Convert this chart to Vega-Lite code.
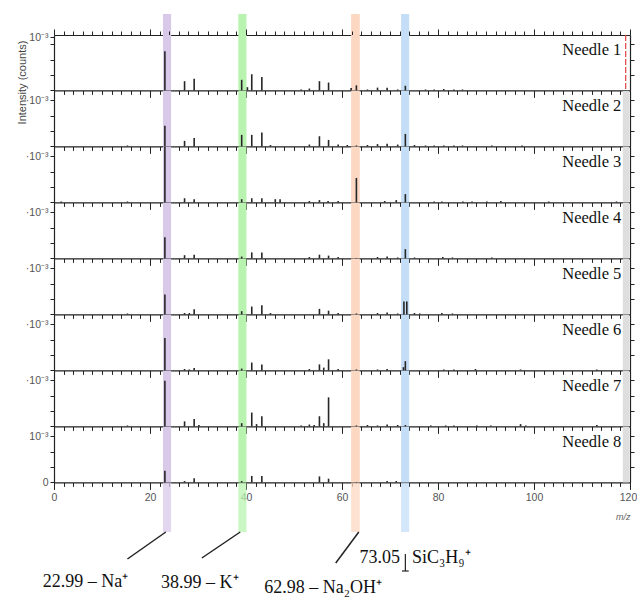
{
"$schema": "https://vega.github.io/schema/vega-lite/v6.json",
"background": "white",
"padding": {"left": 15, "top": 14, "right": 0, "bottom": 0},
"spacing": 0,
"bounds": "flush",
"config": {
  "view": {"stroke": null},
  "axis": {"domainColor": "#222", "domainWidth": 1.2, "tickColor": "#222", "tickWidth": 1, "grid": false, "labelFont": "Liberation Sans", "labelColor": "#555", "labelFontSize": 10.5, "titleFont": "Liberation Sans", "titleFontWeight": "normal", "titleColor": "#444"}
},
"datasets": {
  "bands": [
    {"ion": "Na⁺", "start": 22.7, "end": 24.4},
    {"ion": "K⁺", "start": 38.4, "end": 40.1},
    {"ion": "Na₂OH⁺", "start": 61.9, "end": 63.7},
    {"ion": "SiC₃H₉⁺", "start": 72.3, "end": 74.0},
    {"ion": "ref", "start": 118.5, "end": 119.8}
  ],
  "peaks": [
    {"needle": 1, "mz": 23.1, "intensity": 0.85},
    {"needle": 1, "mz": 27.2, "intensity": 0.2},
    {"needle": 1, "mz": 29.2, "intensity": 0.25},
    {"needle": 1, "mz": 39.1, "intensity": 0.23},
    {"needle": 1, "mz": 40.3, "intensity": 0.07},
    {"needle": 1, "mz": 41.2, "intensity": 0.35},
    {"needle": 1, "mz": 43.3, "intensity": 0.29},
    {"needle": 1, "mz": 51.5, "intensity": 0.02},
    {"needle": 1, "mz": 53.2, "intensity": 0.04},
    {"needle": 1, "mz": 55.3, "intensity": 0.2},
    {"needle": 1, "mz": 57.2, "intensity": 0.17},
    {"needle": 1, "mz": 61.9, "intensity": 0.05},
    {"needle": 1, "mz": 63.0, "intensity": 0.11},
    {"needle": 1, "mz": 65.3, "intensity": 0.02},
    {"needle": 1, "mz": 67.4, "intensity": 0.06},
    {"needle": 1, "mz": 69.4, "intensity": 0.06},
    {"needle": 1, "mz": 71.6, "intensity": 0.02},
    {"needle": 1, "mz": 73.2, "intensity": 0.1},
    {"needle": 1, "mz": 77.4, "intensity": 0.02},
    {"needle": 1, "mz": 79.2, "intensity": 0.02},
    {"needle": 1, "mz": 81.2, "intensity": 0.03},
    {"needle": 1, "mz": 83.3, "intensity": 0.02},
    {"needle": 1, "mz": 85.1, "intensity": 0.02},
    {"needle": 2, "mz": 15.3, "intensity": 0.02},
    {"needle": 2, "mz": 23.1, "intensity": 0.45},
    {"needle": 2, "mz": 27.2, "intensity": 0.12},
    {"needle": 2, "mz": 29.2, "intensity": 0.18},
    {"needle": 2, "mz": 39.1, "intensity": 0.25},
    {"needle": 2, "mz": 41.2, "intensity": 0.25},
    {"needle": 2, "mz": 43.3, "intensity": 0.3},
    {"needle": 2, "mz": 45.1, "intensity": 0.03},
    {"needle": 2, "mz": 53.2, "intensity": 0.04},
    {"needle": 2, "mz": 55.3, "intensity": 0.22},
    {"needle": 2, "mz": 57.2, "intensity": 0.14},
    {"needle": 2, "mz": 59.2, "intensity": 0.04},
    {"needle": 2, "mz": 61.1, "intensity": 0.03},
    {"needle": 2, "mz": 63.0, "intensity": 0.02},
    {"needle": 2, "mz": 65.3, "intensity": 0.03},
    {"needle": 2, "mz": 67.4, "intensity": 0.05},
    {"needle": 2, "mz": 69.4, "intensity": 0.06},
    {"needle": 2, "mz": 71.6, "intensity": 0.04},
    {"needle": 2, "mz": 73.2, "intensity": 0.27},
    {"needle": 2, "mz": 75.1, "intensity": 0.03},
    {"needle": 2, "mz": 77.4, "intensity": 0.02},
    {"needle": 2, "mz": 79.2, "intensity": 0.02},
    {"needle": 2, "mz": 81.2, "intensity": 0.02},
    {"needle": 2, "mz": 83.3, "intensity": 0.02},
    {"needle": 2, "mz": 85.1, "intensity": 0.02},
    {"needle": 2, "mz": 91.2, "intensity": 0.02},
    {"needle": 2, "mz": 97.5, "intensity": 0.02},
    {"needle": 3, "mz": 1.5, "intensity": 0.02},
    {"needle": 3, "mz": 15.3, "intensity": 0.02},
    {"needle": 3, "mz": 23.1, "intensity": 1.2},
    {"needle": 3, "mz": 27.2, "intensity": 0.09},
    {"needle": 3, "mz": 29.2, "intensity": 0.07},
    {"needle": 3, "mz": 39.1, "intensity": 0.07},
    {"needle": 3, "mz": 41.2, "intensity": 0.09},
    {"needle": 3, "mz": 43.3, "intensity": 0.09},
    {"needle": 3, "mz": 46.1, "intensity": 0.07},
    {"needle": 3, "mz": 47.1, "intensity": 0.07},
    {"needle": 3, "mz": 53.2, "intensity": 0.03},
    {"needle": 3, "mz": 55.3, "intensity": 0.05},
    {"needle": 3, "mz": 57.1, "intensity": 0.03},
    {"needle": 3, "mz": 59.2, "intensity": 0.03},
    {"needle": 3, "mz": 63.0, "intensity": 0.53},
    {"needle": 3, "mz": 68.9, "intensity": 0.03},
    {"needle": 3, "mz": 71.3, "intensity": 0.05},
    {"needle": 3, "mz": 73.2, "intensity": 0.18},
    {"needle": 3, "mz": 79.2, "intensity": 0.02},
    {"needle": 3, "mz": 80.8, "intensity": 0.02},
    {"needle": 3, "mz": 85.2, "intensity": 0.02},
    {"needle": 3, "mz": 87.1, "intensity": 0.02},
    {"needle": 3, "mz": 90.2, "intensity": 0.02},
    {"needle": 3, "mz": 93.1, "intensity": 0.03},
    {"needle": 3, "mz": 103.1, "intensity": 0.02},
    {"needle": 3, "mz": 117.2, "intensity": 0.02},
    {"needle": 4, "mz": 23.1, "intensity": 0.46},
    {"needle": 4, "mz": 27.2, "intensity": 0.07},
    {"needle": 4, "mz": 29.2, "intensity": 0.08},
    {"needle": 4, "mz": 39.1, "intensity": 0.04},
    {"needle": 4, "mz": 41.2, "intensity": 0.13},
    {"needle": 4, "mz": 43.3, "intensity": 0.13},
    {"needle": 4, "mz": 53.2, "intensity": 0.03},
    {"needle": 4, "mz": 55.3, "intensity": 0.08},
    {"needle": 4, "mz": 57.2, "intensity": 0.06},
    {"needle": 4, "mz": 59.2, "intensity": 0.03},
    {"needle": 4, "mz": 63.0, "intensity": 0.01},
    {"needle": 4, "mz": 67.4, "intensity": 0.03},
    {"needle": 4, "mz": 69.4, "intensity": 0.04},
    {"needle": 4, "mz": 71.6, "intensity": 0.02},
    {"needle": 4, "mz": 73.2, "intensity": 0.2},
    {"needle": 4, "mz": 75.1, "intensity": 0.02},
    {"needle": 4, "mz": 81.0, "intensity": 0.03},
    {"needle": 4, "mz": 83.0, "intensity": 0.02},
    {"needle": 4, "mz": 91.2, "intensity": 0.02},
    {"needle": 5, "mz": 15.3, "intensity": 0.02},
    {"needle": 5, "mz": 23.1, "intensity": 0.43},
    {"needle": 5, "mz": 27.2, "intensity": 0.03},
    {"needle": 5, "mz": 28.2, "intensity": 0.03},
    {"needle": 5, "mz": 29.2, "intensity": 0.11},
    {"needle": 5, "mz": 39.1, "intensity": 0.07},
    {"needle": 5, "mz": 41.2, "intensity": 0.17},
    {"needle": 5, "mz": 43.3, "intensity": 0.2},
    {"needle": 5, "mz": 45.1, "intensity": 0.03},
    {"needle": 5, "mz": 55.3, "intensity": 0.12},
    {"needle": 5, "mz": 57.2, "intensity": 0.08},
    {"needle": 5, "mz": 59.2, "intensity": 0.03},
    {"needle": 5, "mz": 63.0, "intensity": 0.02},
    {"needle": 5, "mz": 67.4, "intensity": 0.03},
    {"needle": 5, "mz": 69.4, "intensity": 0.04},
    {"needle": 5, "mz": 71.6, "intensity": 0.02},
    {"needle": 5, "mz": 72.9, "intensity": 0.28},
    {"needle": 5, "mz": 73.5, "intensity": 0.28},
    {"needle": 5, "mz": 75.1, "intensity": 0.03},
    {"needle": 5, "mz": 76.2, "intensity": 0.02},
    {"needle": 5, "mz": 80.8, "intensity": 0.03},
    {"needle": 5, "mz": 83.0, "intensity": 0.02},
    {"needle": 6, "mz": 23.1, "intensity": 0.7},
    {"needle": 6, "mz": 27.2, "intensity": 0.03},
    {"needle": 6, "mz": 28.2, "intensity": 0.02},
    {"needle": 6, "mz": 29.2, "intensity": 0.05},
    {"needle": 6, "mz": 39.1, "intensity": 0.04},
    {"needle": 6, "mz": 41.2, "intensity": 0.17},
    {"needle": 6, "mz": 43.3, "intensity": 0.13},
    {"needle": 6, "mz": 53.2, "intensity": 0.03},
    {"needle": 6, "mz": 55.3, "intensity": 0.13},
    {"needle": 6, "mz": 56.2, "intensity": 0.06},
    {"needle": 6, "mz": 57.2, "intensity": 0.24},
    {"needle": 6, "mz": 59.2, "intensity": 0.03},
    {"needle": 6, "mz": 63.0, "intensity": 0.02},
    {"needle": 6, "mz": 67.4, "intensity": 0.02},
    {"needle": 6, "mz": 69.4, "intensity": 0.03},
    {"needle": 6, "mz": 72.8, "intensity": 0.07},
    {"needle": 6, "mz": 73.2, "intensity": 0.2},
    {"needle": 6, "mz": 81.2, "intensity": 0.02},
    {"needle": 6, "mz": 83.3, "intensity": 0.02},
    {"needle": 6, "mz": 87.8, "intensity": 0.03},
    {"needle": 6, "mz": 97.2, "intensity": 0.02},
    {"needle": 6, "mz": 113.1, "intensity": 0.02},
    {"needle": 7, "mz": 15.3, "intensity": 0.02},
    {"needle": 7, "mz": 23.1, "intensity": 0.99},
    {"needle": 7, "mz": 27.2, "intensity": 0.11},
    {"needle": 7, "mz": 29.2, "intensity": 0.16},
    {"needle": 7, "mz": 30.2, "intensity": 0.03},
    {"needle": 7, "mz": 39.1, "intensity": 0.07},
    {"needle": 7, "mz": 41.2, "intensity": 0.3},
    {"needle": 7, "mz": 42.2, "intensity": 0.05},
    {"needle": 7, "mz": 43.3, "intensity": 0.22},
    {"needle": 7, "mz": 51.5, "intensity": 0.02},
    {"needle": 7, "mz": 53.2, "intensity": 0.04},
    {"needle": 7, "mz": 54.2, "intensity": 0.03},
    {"needle": 7, "mz": 55.3, "intensity": 0.22},
    {"needle": 7, "mz": 56.2, "intensity": 0.07},
    {"needle": 7, "mz": 57.2, "intensity": 0.63},
    {"needle": 7, "mz": 63.0, "intensity": 0.02},
    {"needle": 7, "mz": 65.3, "intensity": 0.03},
    {"needle": 7, "mz": 67.4, "intensity": 0.02},
    {"needle": 7, "mz": 69.4, "intensity": 0.04},
    {"needle": 7, "mz": 71.6, "intensity": 0.03},
    {"needle": 7, "mz": 73.2, "intensity": 0.03},
    {"needle": 7, "mz": 78.5, "intensity": 0.02},
    {"needle": 7, "mz": 81.6, "intensity": 0.02},
    {"needle": 7, "mz": 83.3, "intensity": 0.02},
    {"needle": 7, "mz": 88.1, "intensity": 0.02},
    {"needle": 7, "mz": 91.0, "intensity": 0.02},
    {"needle": 7, "mz": 97.2, "intensity": 0.05},
    {"needle": 7, "mz": 98.3, "intensity": 0.02},
    {"needle": 7, "mz": 113.1, "intensity": 0.03},
    {"needle": 8, "mz": 23.1, "intensity": 0.25},
    {"needle": 8, "mz": 27.2, "intensity": 0.03},
    {"needle": 8, "mz": 29.2, "intensity": 0.09},
    {"needle": 8, "mz": 39.1, "intensity": 0.03},
    {"needle": 8, "mz": 41.2, "intensity": 0.14},
    {"needle": 8, "mz": 43.3, "intensity": 0.14},
    {"needle": 8, "mz": 55.3, "intensity": 0.13},
    {"needle": 8, "mz": 57.2, "intensity": 0.08},
    {"needle": 8, "mz": 63.0, "intensity": 0.01},
    {"needle": 8, "mz": 69.4, "intensity": 0.03},
    {"needle": 8, "mz": 71.3, "intensity": 0.03}
  ]
},
"vconcat": [
  {
    "width": 576, "height": 21,
    "data": {"name": "bands"},
    "transform": [{"filter": "datum.ion !== 'ref'"}],
    "mark": {"type": "rect"},
    "encoding": {
      "x": {"field": "start", "type": "quantitative", "scale": {"domain": [0, 120], "nice": false, "zero": false}, "axis": null},
      "x2": {"field": "end"},
      "color": {"field": "ion", "type": "nominal", "scale": {"domain": ["Na⁺", "K⁺", "Na₂OH⁺", "SiC₃H₉⁺", "ref"], "range": ["#d8c9e8", "#b8f4b0", "#fcd8c2", "#c5def7", "#dedede"]}, "legend": null}
    }
  },
  {
    "width": 576, "height": 55.4,
    "layer": [
      {"data": {"name": "bands"}, "transform": [{"filter": "datum.ion !== 'ref'"}], "mark": {"type": "rect"},
       "encoding": {
        "x": {"field": "start", "type": "quantitative", "scale": {"domain": [0, 120], "nice": false, "zero": false}, "axis": {"orient": "bottom", "tickCount": 60, "labels": false, "title": null, "tickSize": {"condition": {"test": "datum.value % 20 === 0", "value": 7}, "value": 4}}},
        "x2": {"field": "end"},
        "color": {"field": "ion", "type": "nominal", "scale": {"domain": ["Na⁺", "K⁺", "Na₂OH⁺", "SiC₃H₉⁺", "ref"], "range": ["#d8c9e8", "#b8f4b0", "#fcd8c2", "#c5def7", "#dedede"]}, "legend": null}}},
      {"data": {"values": [{"m": 119.1}]}, "mark": {"type": "rule", "color": "#e04545", "strokeDash": [6, 2], "strokeWidth": 1.2},
       "encoding": {"x": {"field": "m", "type": "quantitative", "scale": {"domain": [0, 120], "nice": false, "zero": false}, "axis": null}}},
      {"data": {"name": "peaks"}, "transform": [{"filter": "datum.needle === 1"}], "mark": {"type": "rule", "color": "#262626", "strokeWidth": 1.6},
       "encoding": {
        "x": {"field": "mz", "type": "quantitative", "scale": {"domain": [0, 120], "nice": false, "zero": false}, "axis": null},
        "y": {"field": "intensity", "type": "quantitative", "scale": {"domain": [0, 1.2], "nice": false}, "axis": {"orient": "left", "values": [0, 0.3333, 0.6667, 1, 1.15], "labelExpr": "datum.value === 1.15 ? '10⁻³' : ''", "tickSize": 4, "labelPadding": 2, "title": "Intensity (counts)", "titleFontSize": 11, "titleX": -27, "titleY": 47, "titleAngle": -90, "titleBaseline": "bottom", "titleAlign": "center"}},
        "y2": {"datum": 0}}},
      {"data": {"values": [{"label": "Needle 1"}]}, "mark": {"type": "text", "align": "right", "baseline": "middle", "font": "Liberation Serif", "fontSize": 16.5, "color": "#111"},
       "encoding": {
        "x": {"datum": 118.2, "type": "quantitative", "scale": {"domain": [0, 120], "nice": false, "zero": false}, "axis": {"orient": "top", "tickCount": 60, "labels": false, "title": null, "tickSize": {"condition": {"test": "datum.value % 20 === 0", "value": 6}, "value": 4}}},
        "y": {"datum": 0.87, "type": "quantitative", "scale": {"domain": [0, 1.2], "nice": false}, "axis": {"orient": "right", "values": [0.3333, 0.6667, 1], "labels": false, "title": null, "tickSize": 4}},
        "text": {"field": "label"}}}
    ],
    "resolve": {"axis": {"x": "independent", "y": "independent"}}
  },
  {
    "width": 576, "height": 55.4,
    "layer": [
      {"data": {"name": "bands"}, "mark": {"type": "rect"},
       "encoding": {
        "x": {"field": "start", "type": "quantitative", "scale": {"domain": [0, 120], "nice": false, "zero": false}, "axis": {"orient": "bottom", "tickCount": 60, "labels": false, "title": null, "tickSize": {"condition": {"test": "datum.value % 20 === 0", "value": 7}, "value": 4}}},
        "x2": {"field": "end"},
        "color": {"field": "ion", "type": "nominal", "scale": {"domain": ["Na⁺", "K⁺", "Na₂OH⁺", "SiC₃H₉⁺", "ref"], "range": ["#d8c9e8", "#b8f4b0", "#fcd8c2", "#c5def7", "#dedede"]}, "legend": null}}},
      {"data": {"name": "peaks"}, "transform": [{"filter": "datum.needle === 2"}], "mark": {"type": "rule", "color": "#262626", "strokeWidth": 1.6},
       "encoding": {
        "x": {"field": "mz", "type": "quantitative", "scale": {"domain": [0, 120], "nice": false, "zero": false}, "axis": null},
        "y": {"field": "intensity", "type": "quantitative", "scale": {"domain": [0, 1.2], "nice": false}, "axis": {"orient": "left", "values": [0, 0.3333, 0.6667, 1], "labelExpr": "datum.value === 1 ? '·10⁻³' : ''", "tickSize": 4, "labelPadding": 2, "title": null}},
        "y2": {"datum": 0}}},
      {"data": {"values": [{"label": "Needle 2"}]}, "mark": {"type": "text", "align": "right", "baseline": "middle", "font": "Liberation Serif", "fontSize": 16.5, "color": "#111"},
       "encoding": {
        "x": {"datum": 118.2, "type": "quantitative", "scale": {"domain": [0, 120], "nice": false, "zero": false}, "axis": null},
        "y": {"datum": 0.87, "type": "quantitative", "scale": {"domain": [0, 1.2], "nice": false}, "axis": {"orient": "right", "values": [0.3333, 0.6667, 1], "labels": false, "title": null, "tickSize": 4}},
        "text": {"field": "label"}}}
    ],
    "resolve": {"axis": {"x": "independent", "y": "independent"}}
  },
  {
    "width": 576, "height": 55.4,
    "layer": [
      {"data": {"name": "bands"}, "mark": {"type": "rect"},
       "encoding": {
        "x": {"field": "start", "type": "quantitative", "scale": {"domain": [0, 120], "nice": false, "zero": false}, "axis": {"orient": "bottom", "tickCount": 60, "labels": false, "title": null, "tickSize": {"condition": {"test": "datum.value % 20 === 0", "value": 7}, "value": 4}}},
        "x2": {"field": "end"},
        "color": {"field": "ion", "type": "nominal", "scale": {"domain": ["Na⁺", "K⁺", "Na₂OH⁺", "SiC₃H₉⁺", "ref"], "range": ["#d8c9e8", "#b8f4b0", "#fcd8c2", "#c5def7", "#dedede"]}, "legend": null}}},
      {"data": {"name": "peaks"}, "transform": [{"filter": "datum.needle === 3"}], "mark": {"type": "rule", "color": "#262626", "strokeWidth": 1.6},
       "encoding": {
        "x": {"field": "mz", "type": "quantitative", "scale": {"domain": [0, 120], "nice": false, "zero": false}, "axis": null},
        "y": {"field": "intensity", "type": "quantitative", "scale": {"domain": [0, 1.2], "nice": false}, "axis": {"orient": "left", "values": [0, 0.3333, 0.6667, 1], "labelExpr": "datum.value === 1 ? '·10⁻³' : ''", "tickSize": 4, "labelPadding": 2, "title": null}},
        "y2": {"datum": 0}}},
      {"data": {"values": [{"label": "Needle 3"}]}, "mark": {"type": "text", "align": "right", "baseline": "middle", "font": "Liberation Serif", "fontSize": 16.5, "color": "#111"},
       "encoding": {
        "x": {"datum": 118.2, "type": "quantitative", "scale": {"domain": [0, 120], "nice": false, "zero": false}, "axis": null},
        "y": {"datum": 0.87, "type": "quantitative", "scale": {"domain": [0, 1.2], "nice": false}, "axis": {"orient": "right", "values": [0.3333, 0.6667, 1], "labels": false, "title": null, "tickSize": 4}},
        "text": {"field": "label"}}}
    ],
    "resolve": {"axis": {"x": "independent", "y": "independent"}}
  },
  {
    "width": 576, "height": 55.4,
    "layer": [
      {"data": {"name": "bands"}, "mark": {"type": "rect"},
       "encoding": {
        "x": {"field": "start", "type": "quantitative", "scale": {"domain": [0, 120], "nice": false, "zero": false}, "axis": {"orient": "bottom", "tickCount": 60, "labels": false, "title": null, "tickSize": {"condition": {"test": "datum.value % 20 === 0", "value": 7}, "value": 4}}},
        "x2": {"field": "end"},
        "color": {"field": "ion", "type": "nominal", "scale": {"domain": ["Na⁺", "K⁺", "Na₂OH⁺", "SiC₃H₉⁺", "ref"], "range": ["#d8c9e8", "#b8f4b0", "#fcd8c2", "#c5def7", "#dedede"]}, "legend": null}}},
      {"data": {"name": "peaks"}, "transform": [{"filter": "datum.needle === 4"}], "mark": {"type": "rule", "color": "#262626", "strokeWidth": 1.6},
       "encoding": {
        "x": {"field": "mz", "type": "quantitative", "scale": {"domain": [0, 120], "nice": false, "zero": false}, "axis": null},
        "y": {"field": "intensity", "type": "quantitative", "scale": {"domain": [0, 1.2], "nice": false}, "axis": {"orient": "left", "values": [0, 0.3333, 0.6667, 1], "labelExpr": "datum.value === 1 ? '·10⁻³' : ''", "tickSize": 4, "labelPadding": 2, "title": null}},
        "y2": {"datum": 0}}},
      {"data": {"values": [{"label": "Needle 4"}]}, "mark": {"type": "text", "align": "right", "baseline": "middle", "font": "Liberation Serif", "fontSize": 16.5, "color": "#111"},
       "encoding": {
        "x": {"datum": 118.2, "type": "quantitative", "scale": {"domain": [0, 120], "nice": false, "zero": false}, "axis": null},
        "y": {"datum": 0.87, "type": "quantitative", "scale": {"domain": [0, 1.2], "nice": false}, "axis": {"orient": "right", "values": [0.3333, 0.6667, 1], "labels": false, "title": null, "tickSize": 4}},
        "text": {"field": "label"}}}
    ],
    "resolve": {"axis": {"x": "independent", "y": "independent"}}
  },
  {
    "width": 576, "height": 55.4,
    "layer": [
      {"data": {"name": "bands"}, "mark": {"type": "rect"},
       "encoding": {
        "x": {"field": "start", "type": "quantitative", "scale": {"domain": [0, 120], "nice": false, "zero": false}, "axis": {"orient": "bottom", "tickCount": 60, "labels": false, "title": null, "tickSize": {"condition": {"test": "datum.value % 20 === 0", "value": 7}, "value": 4}}},
        "x2": {"field": "end"},
        "color": {"field": "ion", "type": "nominal", "scale": {"domain": ["Na⁺", "K⁺", "Na₂OH⁺", "SiC₃H₉⁺", "ref"], "range": ["#d8c9e8", "#b8f4b0", "#fcd8c2", "#c5def7", "#dedede"]}, "legend": null}}},
      {"data": {"name": "peaks"}, "transform": [{"filter": "datum.needle === 5"}], "mark": {"type": "rule", "color": "#262626", "strokeWidth": 1.6},
       "encoding": {
        "x": {"field": "mz", "type": "quantitative", "scale": {"domain": [0, 120], "nice": false, "zero": false}, "axis": null},
        "y": {"field": "intensity", "type": "quantitative", "scale": {"domain": [0, 1.2], "nice": false}, "axis": {"orient": "left", "values": [0, 0.3333, 0.6667, 1], "labelExpr": "datum.value === 1 ? '·10⁻³' : ''", "tickSize": 4, "labelPadding": 2, "title": null}},
        "y2": {"datum": 0}}},
      {"data": {"values": [{"label": "Needle 5"}]}, "mark": {"type": "text", "align": "right", "baseline": "middle", "font": "Liberation Serif", "fontSize": 16.5, "color": "#111"},
       "encoding": {
        "x": {"datum": 118.2, "type": "quantitative", "scale": {"domain": [0, 120], "nice": false, "zero": false}, "axis": null},
        "y": {"datum": 0.87, "type": "quantitative", "scale": {"domain": [0, 1.2], "nice": false}, "axis": {"orient": "right", "values": [0.3333, 0.6667, 1], "labels": false, "title": null, "tickSize": 4}},
        "text": {"field": "label"}}}
    ],
    "resolve": {"axis": {"x": "independent", "y": "independent"}}
  },
  {
    "width": 576, "height": 55.4,
    "layer": [
      {"data": {"name": "bands"}, "mark": {"type": "rect"},
       "encoding": {
        "x": {"field": "start", "type": "quantitative", "scale": {"domain": [0, 120], "nice": false, "zero": false}, "axis": {"orient": "bottom", "tickCount": 60, "labels": false, "title": null, "tickSize": {"condition": {"test": "datum.value % 20 === 0", "value": 7}, "value": 4}}},
        "x2": {"field": "end"},
        "color": {"field": "ion", "type": "nominal", "scale": {"domain": ["Na⁺", "K⁺", "Na₂OH⁺", "SiC₃H₉⁺", "ref"], "range": ["#d8c9e8", "#b8f4b0", "#fcd8c2", "#c5def7", "#dedede"]}, "legend": null}}},
      {"data": {"name": "peaks"}, "transform": [{"filter": "datum.needle === 6"}], "mark": {"type": "rule", "color": "#262626", "strokeWidth": 1.6},
       "encoding": {
        "x": {"field": "mz", "type": "quantitative", "scale": {"domain": [0, 120], "nice": false, "zero": false}, "axis": null},
        "y": {"field": "intensity", "type": "quantitative", "scale": {"domain": [0, 1.2], "nice": false}, "axis": {"orient": "left", "values": [0, 0.3333, 0.6667, 1], "labelExpr": "datum.value === 1 ? '·10⁻³' : ''", "tickSize": 4, "labelPadding": 2, "title": null}},
        "y2": {"datum": 0}}},
      {"data": {"values": [{"label": "Needle 6"}]}, "mark": {"type": "text", "align": "right", "baseline": "middle", "font": "Liberation Serif", "fontSize": 16.5, "color": "#111"},
       "encoding": {
        "x": {"datum": 118.2, "type": "quantitative", "scale": {"domain": [0, 120], "nice": false, "zero": false}, "axis": null},
        "y": {"datum": 0.87, "type": "quantitative", "scale": {"domain": [0, 1.2], "nice": false}, "axis": {"orient": "right", "values": [0.3333, 0.6667, 1], "labels": false, "title": null, "tickSize": 4}},
        "text": {"field": "label"}}}
    ],
    "resolve": {"axis": {"x": "independent", "y": "independent"}}
  },
  {
    "width": 576, "height": 55.4,
    "layer": [
      {"data": {"name": "bands"}, "mark": {"type": "rect"},
       "encoding": {
        "x": {"field": "start", "type": "quantitative", "scale": {"domain": [0, 120], "nice": false, "zero": false}, "axis": {"orient": "bottom", "tickCount": 60, "labels": false, "title": null, "tickSize": {"condition": {"test": "datum.value % 20 === 0", "value": 7}, "value": 4}}},
        "x2": {"field": "end"},
        "color": {"field": "ion", "type": "nominal", "scale": {"domain": ["Na⁺", "K⁺", "Na₂OH⁺", "SiC₃H₉⁺", "ref"], "range": ["#d8c9e8", "#b8f4b0", "#fcd8c2", "#c5def7", "#dedede"]}, "legend": null}}},
      {"data": {"name": "peaks"}, "transform": [{"filter": "datum.needle === 7"}], "mark": {"type": "rule", "color": "#262626", "strokeWidth": 1.6},
       "encoding": {
        "x": {"field": "mz", "type": "quantitative", "scale": {"domain": [0, 120], "nice": false, "zero": false}, "axis": null},
        "y": {"field": "intensity", "type": "quantitative", "scale": {"domain": [0, 1.2], "nice": false}, "axis": {"orient": "left", "values": [0, 0.3333, 0.6667, 1], "labelExpr": "datum.value === 1 ? '·10⁻³' : ''", "tickSize": 4, "labelPadding": 2, "title": null}},
        "y2": {"datum": 0}}},
      {"data": {"values": [{"label": "Needle 7"}]}, "mark": {"type": "text", "align": "right", "baseline": "middle", "font": "Liberation Serif", "fontSize": 16.5, "color": "#111"},
       "encoding": {
        "x": {"datum": 118.2, "type": "quantitative", "scale": {"domain": [0, 120], "nice": false, "zero": false}, "axis": null},
        "y": {"datum": 0.87, "type": "quantitative", "scale": {"domain": [0, 1.2], "nice": false}, "axis": {"orient": "right", "values": [0.3333, 0.6667, 1], "labels": false, "title": null, "tickSize": 4}},
        "text": {"field": "label"}}}
    ],
    "resolve": {"axis": {"x": "independent", "y": "independent"}}
  },
  {
    "width": 576, "height": 55.4,
    "layer": [
      {"data": {"name": "bands"}, "mark": {"type": "rect"},
       "encoding": {
        "x": {"field": "start", "type": "quantitative", "scale": {"domain": [0, 120], "nice": false, "zero": false}, "axis": {"orient": "bottom", "tickCount": 60, "labels": true, "labelExpr": "datum.value % 20 === 0 ? datum.label : ''", "labelFlush": false, "labelOverlap": false, "labelFontSize": 10.5, "labelPadding": 3, "labelOffset": {"condition": {"test": "datum.value === 120", "value": -2}, "value": 0}, "title": "m/z", "titleFontStyle": "italic", "titleFontSize": 9, "titleColor": "#666", "titleAnchor": "end", "titleAlign": "right", "titleX": 576, "titleY": 37, "titleBaseline": "alphabetic", "tickSize": {"condition": {"test": "datum.value % 20 === 0", "value": 7}, "value": 4}}},
        "x2": {"field": "end"},
        "color": {"field": "ion", "type": "nominal", "scale": {"domain": ["Na⁺", "K⁺", "Na₂OH⁺", "SiC₃H₉⁺", "ref"], "range": ["#d8c9e8", "#b8f4b0", "#fcd8c2", "#c5def7", "#dedede"]}, "legend": null}}},
      {"data": {"name": "peaks"}, "transform": [{"filter": "datum.needle === 8"}], "mark": {"type": "rule", "color": "#262626", "strokeWidth": 1.6},
       "encoding": {
        "x": {"field": "mz", "type": "quantitative", "scale": {"domain": [0, 120], "nice": false, "zero": false}, "axis": null},
        "y": {"field": "intensity", "type": "quantitative", "scale": {"domain": [0, 1.2], "nice": false}, "axis": {"orient": "left", "values": [0, 0.3333, 0.6667, 1], "labelExpr": "datum.value === 1 ? '10⁻³' : (datum.value === 0 ? '0' : '')", "tickSize": 4, "labelPadding": 2, "title": null}},
        "y2": {"datum": 0}}},
      {"data": {"values": [{"label": "Needle 8"}]}, "mark": {"type": "text", "align": "right", "baseline": "middle", "font": "Liberation Serif", "fontSize": 16.5, "color": "#111"},
       "encoding": {
        "x": {"datum": 118.2, "type": "quantitative", "scale": {"domain": [0, 120], "nice": false, "zero": false}, "axis": null},
        "y": {"datum": 0.87, "type": "quantitative", "scale": {"domain": [0, 1.2], "nice": false}, "axis": {"orient": "right", "values": [0.3333, 0.6667, 1], "labels": false, "title": null, "tickSize": 4}},
        "text": {"field": "label"}}}
    ],
    "resolve": {"axis": {"x": "independent", "y": "independent"}}
  },
  {
    "width": 576, "height": 123,
    "layer": [
      {"data": {"name": "bands"}, "transform": [{"filter": "datum.ion !== 'ref'"}], "mark": {"type": "rect", "opacity": 0.75},
       "encoding": {
        "x": {"field": "start", "type": "quantitative", "scale": {"domain": [0, 120], "nice": false, "zero": false}, "axis": null},
        "x2": {"field": "end"},
        "y": {"datum": 0, "type": "quantitative", "scale": {"domain": [0, 123], "nice": false, "zero": false, "reverse": true}, "axis": null},
        "y2": {"datum": 49},
        "color": {"field": "ion", "type": "nominal", "scale": {"domain": ["Na⁺", "K⁺", "Na₂OH⁺", "SiC₃H₉⁺", "ref"], "range": ["#d8c9e8", "#b8f4b0", "#fcd8c2", "#c5def7", "#dedede"]}, "legend": null}}},
      {"data": {"values": [{"ion": "Na⁺"}]}, "mark": {"type": "rule", "color": "#222", "strokeWidth": 1.5},
       "encoding": {"x": {"datum": 23.3, "type": "quantitative"}, "x2": {"datum": 15.3}, "y": {"datum": 49, "type": "quantitative"}, "y2": {"datum": 76}}},
      {"data": {"values": [{"ion": "K⁺"}]}, "mark": {"type": "rule", "color": "#222", "strokeWidth": 1.5},
       "encoding": {"x": {"datum": 38.8, "type": "quantitative"}, "x2": {"datum": 30.8}, "y": {"datum": 49, "type": "quantitative"}, "y2": {"datum": 75}}},
      {"data": {"values": [{"ion": "Na₂OH⁺"}]}, "mark": {"type": "rule", "color": "#222", "strokeWidth": 1.5},
       "encoding": {"x": {"datum": 63.5, "type": "quantitative"}, "x2": {"datum": 58.7}, "y": {"datum": 49, "type": "quantitative"}, "y2": {"datum": 80}}},
      {"data": {"values": [{"ion": "SiC₃H₉⁺"}]}, "mark": {"type": "rule", "color": "#222", "strokeWidth": 1.2},
       "encoding": {"x": {"datum": 73.2, "type": "quantitative"}, "y": {"datum": 71, "type": "quantitative"}, "y2": {"datum": 88}}},
      {"data": {"values": [{"ion": "SiC₃H₉⁺"}]}, "mark": {"type": "rule", "color": "#222", "strokeWidth": 1.2},
       "encoding": {"x": {"datum": 72.5, "type": "quantitative"}, "x2": {"datum": 73.9}, "y": {"datum": 88, "type": "quantitative"}}},
      {"data": {"values": [{"label": "22.99 – Na⁺"}]}, "mark": {"type": "text", "align": "left", "baseline": "alphabetic", "font": "Liberation Serif", "fontSize": 18, "color": "#111"},
       "encoding": {"x": {"datum": -2.35, "type": "quantitative"}, "y": {"datum": 104, "type": "quantitative"}, "text": {"field": "label"}}},
      {"data": {"values": [{"label": "38.99 – K⁺"}]}, "mark": {"type": "text", "align": "left", "baseline": "alphabetic", "font": "Liberation Serif", "fontSize": 18, "color": "#111"},
       "encoding": {"x": {"datum": 22.3, "type": "quantitative"}, "y": {"datum": 105, "type": "quantitative"}, "text": {"field": "label"}}},
      {"data": {"values": [{"label": "62.98 – Na₂OH⁺"}]}, "mark": {"type": "text", "align": "left", "baseline": "alphabetic", "font": "Liberation Serif", "fontSize": 18, "color": "#111"},
       "encoding": {"x": {"datum": 43.8, "type": "quantitative"}, "y": {"datum": 109.5, "type": "quantitative"}, "text": {"field": "label"}}},
      {"data": {"values": [{"label": "73.05"}]}, "mark": {"type": "text", "align": "right", "baseline": "alphabetic", "font": "Liberation Serif", "fontSize": 18, "color": "#111"},
       "encoding": {"x": {"datum": 72.1, "type": "quantitative"}, "y": {"datum": 80, "type": "quantitative"}, "text": {"field": "label"}}},
      {"data": {"values": [{"label": "SiC₃H₉⁺"}]}, "mark": {"type": "text", "align": "left", "baseline": "alphabetic", "font": "Liberation Serif", "fontSize": 18, "color": "#111"},
       "encoding": {"x": {"datum": 74.6, "type": "quantitative"}, "y": {"datum": 80, "type": "quantitative"}, "text": {"field": "label"}}}
    ]
  }
]
}
